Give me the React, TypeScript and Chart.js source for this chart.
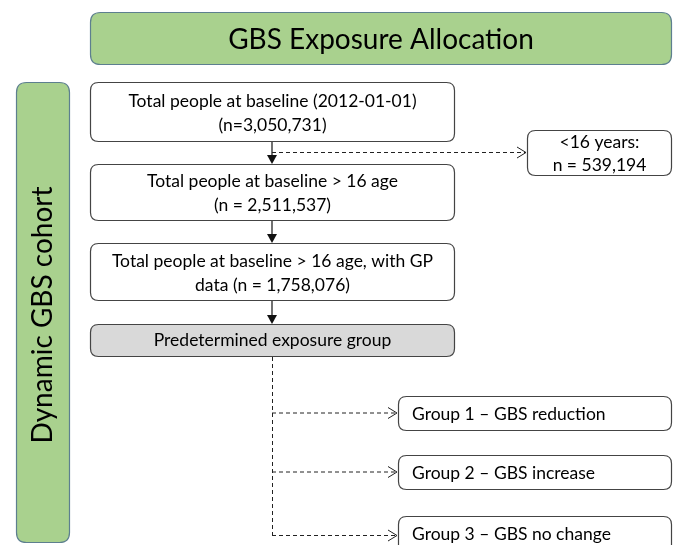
import React, { useEffect, useRef } from 'react';
import { Chart, registerables } from 'chart.js';
Chart.register(...registerables);

// ---- data ----
const titleText = 'GBS Exposure Allocation';
const cohortLabel = 'Dynamic GBS cohort';
const baselineDate = '2012-01-01';
const stepCounts = [3050731, 2511537, 1758076];
const excludedAge = 16;
const excludedCount = 539194;
const groupHeader = 'Predetermined exposure group';
const groupLabels = ['Group 1 – GBS reduction', 'Group 2 – GBS increase', 'Group 3 – GBS no change'];

const fmt = (n: number) => n.toLocaleString('en-US');
const stepLines: string[][] = [
  [`Total people at baseline (${baselineDate})`, `(n=${fmt(stepCounts[0])})`],
  [`Total people at baseline > ${excludedAge} age`, `(n = ${fmt(stepCounts[1])})`],
  [`Total people at baseline > ${excludedAge} age, with GP`, `data (n = ${fmt(stepCounts[2])})`],
];
const excludedLines = [`<${excludedAge} years:`, `n = ${fmt(excludedCount)}`];

// ---- layout (canvas units) ----
const W = 675, H = 545;
const FONT = 'Lato, "Open Sans", sans-serif';
const BODY = 17.5;
const titleBox = { x0: 90, x1: 672, y0: 12, y1: 65 };
const sideBox = { x0: 16, x1: 70, y0: 82, y1: 543 };
const sideTextY = 315;
const stepX = { x0: 90, x1: 455 };
const stepY = [[82, 142], [164, 221], [243, 301]];
const greyY = [324, 357];
const exclBox = { x0: 527, x1: 672, y0: 130, y1: 176 };
const exclLineY = 152;
const groupX = { x0: 398, x1: 672 };
const groupY = [[396, 431], [455, 490], [516, 580]];
const spineX = 272;

function rr(ctx: CanvasRenderingContext2D, x0: number, y0: number, x1: number, y1: number, r: number) {
  ctx.beginPath();
  ctx.moveTo(x0 + r, y0);
  ctx.lineTo(x1 - r, y0);
  ctx.quadraticCurveTo(x1, y0, x1, y0 + r);
  ctx.lineTo(x1, y1 - r);
  ctx.quadraticCurveTo(x1, y1, x1 - r, y1);
  ctx.lineTo(x0 + r, y1);
  ctx.quadraticCurveTo(x0, y1, x0, y1 - r);
  ctx.lineTo(x0, y0 + r);
  ctx.quadraticCurveTo(x0, y0, x0 + r, y0);
  ctx.closePath();
}

const flowPlugin = {
  id: 'flow',
  beforeDraw(chart: any) {
    const ctx = chart.ctx as CanvasRenderingContext2D;
    ctx.save();
    ctx.fillStyle = '#ffffff';
    ctx.fillRect(0, 0, chart.width, chart.height);
    ctx.restore();
  },
  afterDraw(chart: any) {
    const ctx = chart.ctx as CanvasRenderingContext2D;
    const sx = chart.scales.x, sy = chart.scales.y;
    const X = (v: number) => sx.getPixelForValue(v);
    const Y = (v: number) => sy.getPixelForValue(v);
    ctx.save();

    const box = (b: any, fill: string, stroke: string, r = 8) => {
      rr(ctx, X(b.x0) + 0.5, Y(b.y0) + 0.5, X(b.x1) - 0.5, Y(b.y1) - 0.5, r);
      ctx.fillStyle = fill;
      ctx.fill();
      ctx.lineWidth = 1.2;
      ctx.strokeStyle = stroke;
      ctx.stroke();
    };
    const text = (t: string, x: number, y: number, size: number, align: CanvasTextAlign = 'center') => {
      ctx.font = `${size}px ${FONT}`;
      ctx.fillStyle = '#000000';
      ctx.textAlign = align;
      ctx.textBaseline = 'middle';
      ctx.fillText(t, X(x), Y(y));
    };
    const solidArrow = (x: number, y0: number, y1: number) => {
      ctx.setLineDash([]);
      ctx.strokeStyle = '#111';
      ctx.lineWidth = 1.2;
      ctx.beginPath();
      ctx.moveTo(X(x), Y(y0));
      ctx.lineTo(X(x), Y(y1) - 8);
      ctx.stroke();
      ctx.fillStyle = '#111';
      ctx.beginPath();
      ctx.moveTo(X(x) - 5, Y(y1) - 9);
      ctx.lineTo(X(x) + 5, Y(y1) - 9);
      ctx.lineTo(X(x), Y(y1));
      ctx.closePath();
      ctx.fill();
    };
    const dashedH = (x0: number, x1: number, y: number) => {
      ctx.strokeStyle = '#222';
      ctx.lineWidth = 1;
      ctx.setLineDash([4, 3]);
      ctx.beginPath();
      ctx.moveTo(X(x0), Y(y) + 0.5);
      ctx.lineTo(X(x1) - 1, Y(y) + 0.5);
      ctx.stroke();
      ctx.setLineDash([]);
      ctx.beginPath();
      ctx.moveTo(X(x1) - 10, Y(y) - 5);
      ctx.lineTo(X(x1) - 1, Y(y) + 0.5);
      ctx.lineTo(X(x1) - 10, Y(y) + 6);
      ctx.stroke();
    };

    // title
    box(titleBox, '#a9d18e', '#5d7f8f', 10);
    text(titleText, (titleBox.x0 + titleBox.x1) / 2, (titleBox.y0 + titleBox.y1) / 2 + 1, 28);

    // side label
    box(sideBox, '#a9d18e', '#5d7f8f', 10);
    ctx.save();
    ctx.translate(X((sideBox.x0 + sideBox.x1) / 2), Y(sideTextY));
    ctx.rotate(-Math.PI / 2);
    ctx.font = `28px ${FONT}`;
    ctx.fillStyle = '#000';
    ctx.textAlign = 'center';
    ctx.textBaseline = 'middle';
    ctx.fillText(cohortLabel, 0, 0);
    ctx.restore();

    // steps
    stepY.forEach(([y0, y1], i) => {
      box({ x0: stepX.x0, x1: stepX.x1, y0, y1 }, '#ffffff', '#444444');
      const lines = stepLines[i];
      const cx = (stepX.x0 + stepX.x1) / 2;
      const cy = (y0 + y1) / 2;
      text(lines[0], cx, cy - 11, BODY);
      text(lines[1], cx, cy + 13, BODY);
    });
    // grey
    box({ x0: stepX.x0, x1: stepX.x1, y0: greyY[0], y1: greyY[1] }, '#d9d9d9', '#444444');
    text(groupHeader, (stepX.x0 + stepX.x1) / 2, (greyY[0] + greyY[1]) / 2, BODY);

    // arrows between steps
    solidArrow(spineX, stepY[0][1], stepY[1][0]);
    solidArrow(spineX, stepY[1][1], stepY[2][0]);
    solidArrow(spineX, stepY[2][1], greyY[0]);

    // exclusion
    dashedH(spineX, exclBox.x0, exclLineY);
    box(exclBox, '#ffffff', '#444444');
    text(excludedLines[0], (exclBox.x0 + exclBox.x1) / 2, exclBox.y0 + 12, BODY);
    text(excludedLines[1], (exclBox.x0 + exclBox.x1) / 2, exclBox.y0 + 35, BODY);

    // groups
    const lastY = (groupY[groupY.length - 1][0] + 19);
    ctx.strokeStyle = '#222';
    ctx.lineWidth = 1;
    ctx.setLineDash([4, 3]);
    ctx.beginPath();
    ctx.moveTo(X(spineX) + 0.5, Y(greyY[1]));
    ctx.lineTo(X(spineX) + 0.5, Y(lastY));
    ctx.stroke();
    ctx.setLineDash([]);
    groupY.forEach(([y0, y1], i) => {
      const midY = i === groupY.length - 1 ? y0 + 19 : (y0 + y1) / 2 - 1;
      dashedH(spineX, groupX.x0, midY);
      box({ x0: groupX.x0, x1: groupX.x1, y0, y1 }, '#ffffff', '#444444');
      text(groupLabels[i], groupX.x0 + 14, y0 + 18, BODY, 'left');
    });

    ctx.restore();
  },
};

export default function App() {
  const ref = useRef<HTMLCanvasElement | null>(null);
  useEffect(() => {
    if (!ref.current) return;
    const chart = new Chart(ref.current, {
      type: 'scatter',
      data: { datasets: [{ data: [], pointRadius: 0 }] },
      options: {
        animation: false,
        responsive: false,
        layout: { padding: 0 },
        plugins: { legend: { display: false }, tooltip: { enabled: false } },
        scales: {
          x: { type: 'linear', min: 0, max: W, display: false },
          y: { type: 'linear', min: 0, max: H, reverse: true, display: false },
        },
      },
      plugins: [flowPlugin],
    });
    return () => chart.destroy();
  }, []);
  return (
    <div style={{ position: 'fixed', left: 0, top: 0, width: W, height: H, background: '#fff' }}>
      <canvas ref={ref} width={W} height={H} style={{ width: W, height: H }} />
    </div>
  );
}
